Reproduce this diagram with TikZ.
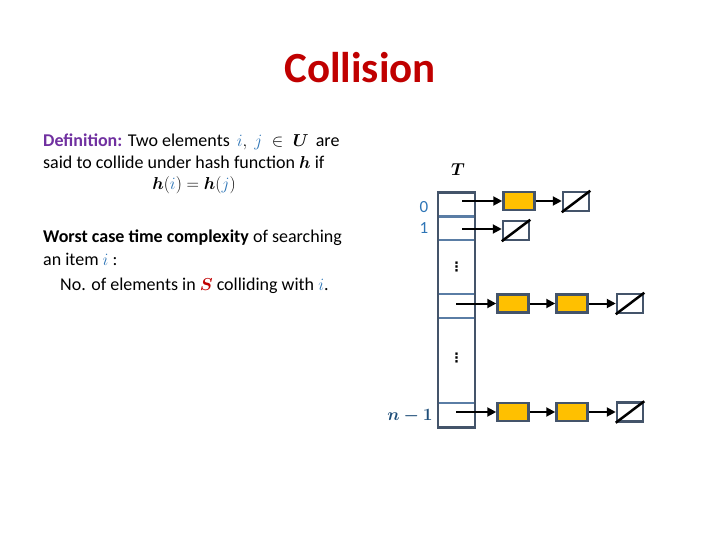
\documentclass[tikz,border=0pt]{standalone}
\usepackage{fontspec}
\setmainfont{Carlito}
\newfontfamily\dejavu{DejaVu Sans}
\usepackage{amsmath,bm}
\usetikzlibrary{arrows.meta}
\definecolor{ttl}{HTML}{C00000}
\definecolor{defc}{HTML}{7030A0}
\definecolor{ib}{HTML}{2E75B6}
\definecolor{nb}{HTML}{1F4E79}
\definecolor{sl}{HTML}{44546A}
\definecolor{dv}{HTML}{5A7DA5}
\definecolor{gold}{HTML}{FFC000}
\definecolor{sred}{HTML}{C00000}
\tikzset{
  txt/.style={anchor=base west,inner sep=0pt,font=\fontsize{18}{22}\selectfont},
  divider/.style={draw=dv,line width=2.2pt},
  frame/.style={draw=sl,line width=2.7pt},
  item/.style={draw=sl,fill=gold,line width=2.5pt,minimum width=31pt,minimum height=18pt,inner sep=0pt},
  nil/.style={draw=sl,line width=2.5pt,minimum width=26pt,minimum height=19pt,inner sep=0pt},
  ptr/.style={line width=2pt,-{Triangle[length=9pt,width=9pt]}},
  lbl/.style={font=\fontsize{17}{19}\selectfont,text=ib},
  vd/.style={font=\dejavu\fontsize{13}{16}\bfseries\selectfont,inner sep=0pt}
}
\newcommand{\mi}{\textcolor{ib}{\ensuremath{i}}}
\newcommand{\mj}{\textcolor{ib}{\ensuremath{j}}}
\begin{document}
\begin{tikzpicture}[x=1pt,y=-1pt]
\useasboundingbox (0,0) rectangle (720,540);
\node[font=\fontsize{43}{50}\bfseries\selectfont,text=ttl] (title) at (360,68) {Collision};

\node[txt] (l1) at (43,147) {\textbf{\textcolor{defc}{Definition:}} Two elements\, $\mi,\ \mj\;\in\;\bm{U}$\, are};
\node[txt] (l2) at (43,169) {said to collide under hash function $\bm{h}$ if};
\node[txt,anchor=base] (l3) at (194,190) {$\bm{h}(\mi)=\bm{h}(\mj)$};
\node[txt] (l4) at (43,243) {\textbf{Worst case time complexity} of searching};
\node[txt] (l5) at (43,265) {an item \mi\ :};
\node[txt] (l6) at (60,290) {No. of elements in $\textcolor{sred}{\bm{S}}$ colliding with \mi.};

% table
\foreach \yy in {216.5,240,294,318,403}{
  \draw[divider] (438,\yy) -- (475,\yy);
}
\draw[frame] (438,192.5) rectangle (475,427.5);
\node[vd] (v1) at (456.5,267) {⋮};
\node[vd] (v2) at (456.5,358) {⋮};
\node[font=\fontsize{17}{18}\selectfont] (T) at (458,170) {$\bm{T}$};
\node[lbl] (n0) at (424,207) {0};
\node[lbl] (n1) at (424,228) {1};
\node[font=\fontsize{16}{18}\selectfont,text=nb] (nn) at (410,416) {$\bm{n-1}$};

% row 0
\coordinate (s0) at (462,201);
\node[item] (a0) at (519,201) {};
\node[nil] (z0) at (576,201.5) {};
\draw[ptr] (s0) -- (a0.west |- s0);
\draw[ptr] (a0) -- (z0.west |- a0);
% row 1
\coordinate (s1) at (462,229);
\node[nil] (z1) at (516,230.5) {};
\draw[ptr] (s1) -- (z1.west |- s1);
% row 2
\coordinate (s2) at (456,303.5);
\node[item] (a2) at (513,303.5) {};
\node[item] (b2) at (572,303.5) {};
\node[nil] (z2) at (630,303.5) {};
\draw[ptr] (s2) -- (a2);
\draw[ptr] (a2) -- (b2);
\draw[ptr] (b2) -- (z2);
% row n-1
\coordinate (sn) at (456,412);
\node[item] (an) at (513,412) {};
\node[item] (bn) at (572,412) {};
\node[nil] (zn) at (630,412) {};
\draw[ptr] (sn) -- (an);
\draw[ptr] (an) -- (bn);
\draw[ptr] (bn) -- (zn);

\foreach \z in {z0,z1,z2,zn}{
  \draw[line width=2.5pt] (\z.south west) -- (\z.north east);
}
\end{tikzpicture}
\end{document}
